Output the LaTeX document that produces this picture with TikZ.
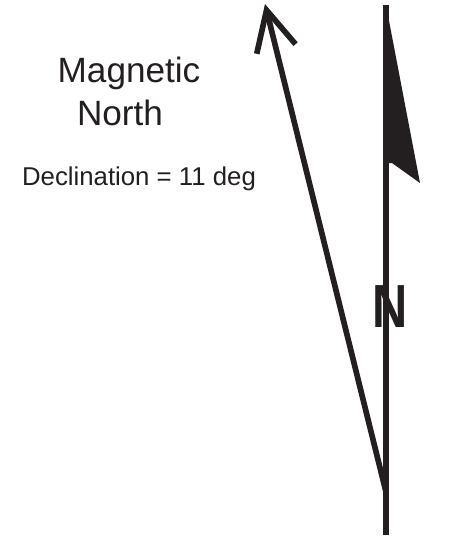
\documentclass[tikz,border=0pt]{standalone}
\usepackage{fontspec}
\setmainfont{Liberation Sans}
\newfontfamily\narrowfont[FakeStretch=0.8]{Liberation Sans}
\usetikzlibrary{arrows.meta}
\definecolor{ink}{HTML}{231F20}

\begin{document}
\begin{tikzpicture}[
    x=0.3mm, y=-0.3mm,
    lbl/.style={anchor=base, text=ink, inner sep=0pt},
    northline/.style={ink, line width=1.9mm},
    magline/.style={ink, line width=1.7mm, line cap=round,
                    -{Straight Barb[length=12mm, width=12mm, line width=1.7mm]}}
]
    \useasboundingbox (0,0) rectangle (451,538);

    % end points of the two needles
    \coordinate (foot)  at (386,535);
    \coordinate (pivot) at (386,492);
    \coordinate (tn)    at (386,5);
    \coordinate (mn)    at (265,4);

    % labels on the left
    \node[lbl, font=\fontsize{30}{36}\selectfont] (mag)   at (129,82)  {Magnetic};
    \node[lbl, font=\fontsize{30}{36}\selectfont] (north) at (120,125) {North};
    \node[lbl, font=\fontsize{22}{26}\selectfont] (decl)  at (139,185) {Declination = 11 deg};

    % true north line with its flag
    \draw[northline] (foot) -- (tn);
    \fill[ink] (tn) -- (420,183) -- (392,163) -- (386,163) -- cycle;
    \node[lbl, font=\narrowfont\bfseries\fontsize{52}{60}\selectfont] (nlet) at (390,327) {N};

    % magnetic north arrow
    \draw[magline] (pivot) -- (mn);
\end{tikzpicture}
\end{document}
